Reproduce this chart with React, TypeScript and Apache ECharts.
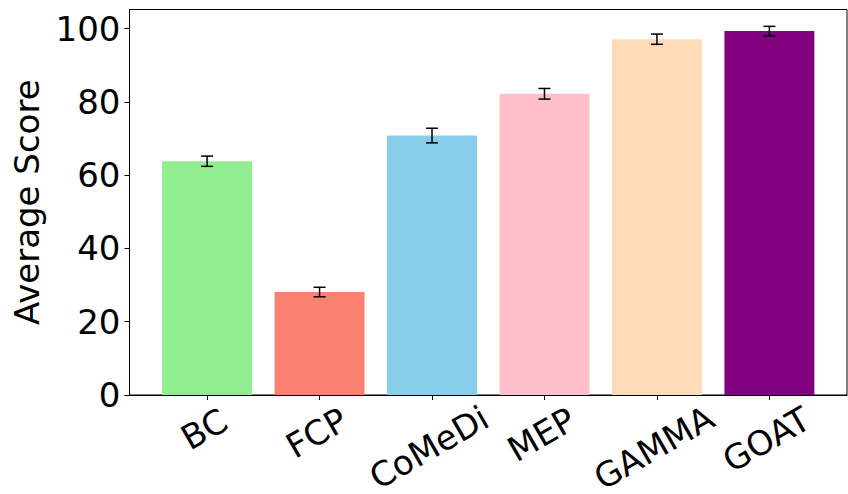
import React, { useEffect, useRef } from "react";
import * as echarts from "echarts";

const categories = ["BC", "FCP", "CoMeDi", "MEP", "GAMMA", "GOAT"];
const scores = [63.8, 28.1, 70.8, 82.2, 97.1, 99.3];
const errors = [1.4, 1.3, 2.0, 1.45, 1.4, 1.3];
const barColors = ["#90EE90", "#FA8072", "#87CEEB", "#FFC0CB", "#FFDAB9", "#800080"];
const yTicks = [0, 20, 40, 60, 80, 100];
const yAxisTitle = "Average Score";

const W = 848;
const H = 494;
const FONT = "DejaVu Sans";
const FS = 34;
const LH = Math.round(FS * 1.2);

export default function App() {
  const ref = useRef<HTMLDivElement>(null);
  useEffect(() => {
    if (!ref.current) return;
    const chart = echarts.init(ref.current, undefined, { renderer: "svg" });

    const frameL = 129.5, frameT = 9.5, frameR = 847, frameB = 395;
    const n = categories.length;
    const xMin = -0.4 - 0.05 * (n - 1 + 0.8);
    const xMax = n - 1 + 0.4 + 0.05 * (n - 1 + 0.8);
    const unit = (frameR - frameL) / (xMax - xMin);
    const g1Left = frameL + (-0.5 - xMin) * unit;
    const g1Right = W - (frameR - (xMax - (n - 0.5)) * unit);
    const yMax = 105.2;

    // matplotlib-style centred rotated labels: shift each label's centre
    const canvas = document.createElement("canvas");
    const ctx = canvas.getContext("2d")!;
    ctx.font = `${FS}px "${FONT}"`;
    const ang = Math.PI / 6;
    const catData = categories.map((c) => {
      const L = ctx.measureText(c).width;
      const dx = -3;
      const dy = 24 + 0.2176 * L;
      const lx = dx * Math.cos(ang) - dy * Math.sin(ang);
      const ly = dx * Math.sin(ang) + dy * Math.cos(ang);
      const p0 = Math.max(0, ly - LH / 2);
      const padding = lx < 0 ? [p0, -2 * lx, 0, 0] : [p0, 0, 0, 2 * lx];
      return {
        value: c,
        textStyle: {
          align: "center",
          verticalAlign: "top",
          lineHeight: LH,
          padding,
          fontSize: FS,
          fontFamily: FONT,
          color: "#000",
        },
      };
    });

    chart.setOption({
      animation: false,
      backgroundColor: "#fff",
      grid: [
        {
          left: frameL, top: frameT, right: W - frameR, bottom: H - frameB,
          outerBoundsMode: "none", containLabel: false,
          show: true, borderColor: "#000", borderWidth: 1, backgroundColor: "transparent",
        },
        {
          left: g1Left, top: frameT, right: g1Right, bottom: H - frameB,
          outerBoundsMode: "none", containLabel: false,
        },
      ],
      xAxis: [
        {
          type: "value", gridIndex: 0, min: xMin, max: xMax,
          axisLine: { show: true, onZero: false, lineStyle: { color: "#000", width: 1 } },
          axisTick: { show: false }, axisLabel: { show: false }, splitLine: { show: false },
        },
        {
          type: "category", gridIndex: 1, data: catData,
          axisLine: { show: false, onZero: false },
          axisTick: { show: true, alignWithLabel: true, length: 5, lineStyle: { color: "#000" } },
          axisLabel: {
            interval: 0, rotate: 30, align: "center", verticalAlign: "top",
            margin: 0, fontSize: FS, fontFamily: FONT, color: "#000",
          },
        },
      ],
      yAxis: [
        {
          type: "value", gridIndex: 0, min: 0, max: yMax,
          name: yAxisTitle, nameLocation: "middle", nameGap: 86,
          nameTextStyle: { fontSize: FS, fontFamily: FONT, color: "#000" },
          axisLine: { show: true, onZero: false, lineStyle: { color: "#000", width: 1 } },
          axisTick: { show: true, length: 5, customValues: yTicks, lineStyle: { color: "#000" } },
          axisLabel: { customValues: yTicks, margin: 9, fontSize: FS, fontFamily: FONT, color: "#000" },
          splitLine: { show: false },
        },
        {
          type: "value", gridIndex: 1, min: 0, max: yMax, show: false,
          axisLine: { show: false, onZero: false },
          splitLine: { show: false },
        },
      ],
      series: [
        {
          type: "bar", xAxisIndex: 1, yAxisIndex: 1, barWidth: "80%",
          data: scores.map((v, i) => ({ value: v, itemStyle: { color: barColors[i] } })),
        },
        {
          type: "custom", xAxisIndex: 1, yAxisIndex: 1, z: 10,
          data: scores.map((v, i) => [i, v - errors[i], v + errors[i]]),
          encode: { x: 0, y: [1, 2] },
          renderItem: (params: any, api: any) => {
            const lo = api.coord([api.value(0), api.value(1)]);
            const hi = api.coord([api.value(0), api.value(2)]);
            const hw = 6;
            const style = { stroke: "#000", lineWidth: 1.5 };
            return {
              type: "group",
              children: [
                { type: "line", shape: { x1: lo[0], y1: lo[1], x2: hi[0], y2: hi[1] }, style },
                { type: "line", shape: { x1: lo[0] - hw, y1: lo[1], x2: lo[0] + hw, y2: lo[1] }, style },
                { type: "line", shape: { x1: hi[0] - hw, y1: hi[1], x2: hi[0] + hw, y2: hi[1] }, style },
              ],
            };
          },
        },
      ],
    });
    return () => chart.dispose();
  }, []);
  return (
    <div
      ref={ref}
      style={{ position: "fixed", left: 0, top: 0, width: W, height: H, background: "#fff" }}
    />
  );
}
